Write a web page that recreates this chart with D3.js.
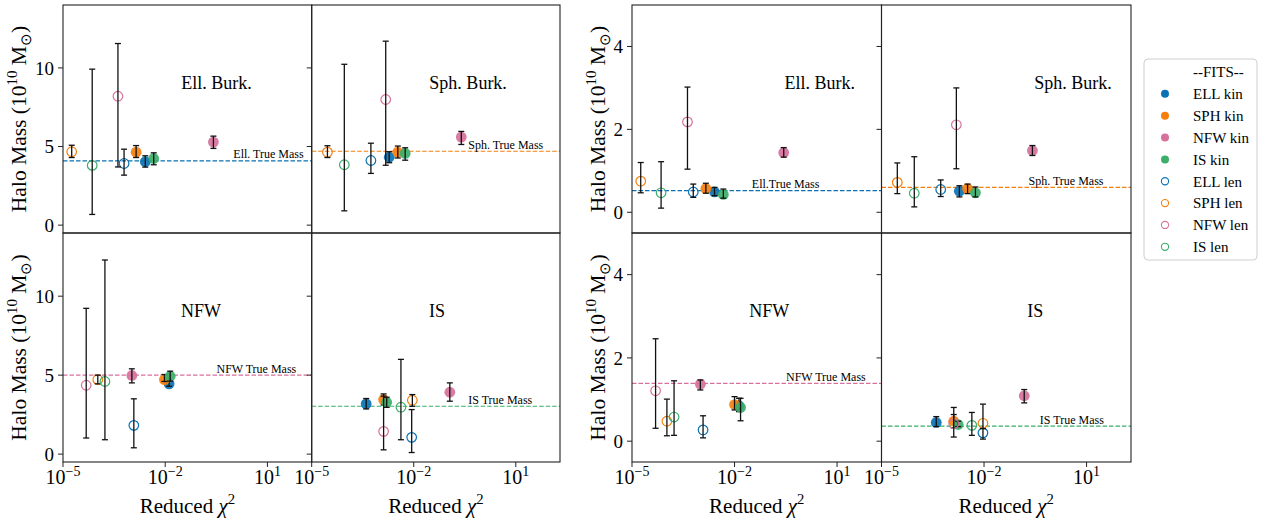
<!DOCTYPE html>
<html><head><meta charset="utf-8">
<script src="https://cdn.jsdelivr.net/npm/d3@7"></script>
<style>
body{margin:0;background:#fff}
svg{display:block}
text{font-family:"Liberation Serif","Times New Roman",serif;fill:#000}
</style>
</head><body>
<svg id="chart" width="1268" height="521"></svg>
<script>
// ---------------- DATA ----------------
const seriesNames = ["ELL kin","SPH kin","NFW kin","IS kin","ELL len","SPH len","NFW len","IS len"];
const seriesModel = [0,1,2,3,0,1,2,3];
const seriesFilled = [true,true,true,true,false,false,false,false];
const panelTitles = ["Ell. Burk.","Sph. Burk.","NFW","IS"];
const trueMassLabelsA = ["Ell. True Mass","Sph. True Mass","NFW True Mass","IS True Mass"];
const trueMassLabelsB = ["Ell.True Mass","Sph. True Mass","NFW True Mass","IS True Mass"];
const xTicks = [1e-5, 1e-2, 1e1];
const yTicksA = [0, 5, 10];
const yTicksB = [0, 2, 4];

// Group A (left block) : per panel, values in series order
const chi2A = [
  [2.6e-3, 1.4e-3, 0.26, 4.6e-3, 6.2e-4, 1.8e-5, 4.1e-4, 7.2e-5],
  [1.9e-3, 3.4e-3, 0.25, 5.6e-3, 5.5e-4, 2.9e-5, 1.5e-3, 9.1e-5],
  [1.3e-2, 9.5e-3, 1.05e-3, 1.4e-2, 1.2e-3, 1.05e-4, 4.8e-5, 1.7e-4],
  [4.0e-4, 1.3e-3, 0.115, 1.6e-3, 8.7e-3, 9.1e-3, 1.3e-3, 4.2e-3]
];
const massA = [
  [4.03, 4.64, 5.28, 4.24, 3.92, 4.67, 8.2, 3.8],
  [4.32, 4.64, 5.6, 4.56, 4.11, 4.64, 7.99, 3.84],
  [4.45, 4.72, 4.98, 4.93, 1.82, 4.72, 4.36, 4.6],
  [3.18, 3.45, 3.92, 3.28, 1.06, 3.41, 1.44, 2.97]
];
const lowA = [
  [3.69, 4.3, 4.88, 3.84, 3.18, 4.3, 3.7, 0.68],
  [3.97, 4.27, 5.13, 4.13, 3.29, 4.3, 3.81, 0.91],
  [4.3, 4.6, 4.51, 4.62, 0.4, 4.45, 1.02, 0.91],
  [2.86, 3.11, 3.35, 2.96, 0.1, 3.03, 0.27, 0.91]
];
const highA = [
  [4.41, 5.06, 5.66, 4.6, 4.83, 5.08, 11.55, 9.92],
  [4.67, 5.03, 5.96, 4.92, 5.21, 5.05, 11.7, 10.23],
  [4.76, 5.04, 5.4, 5.25, 3.5, 5.0, 9.23, 12.29],
  [3.52, 3.81, 4.51, 3.6, 2.82, 3.77, 3.67, 6.0]
];
const trueMassA = [4.09, 4.7, 5.0, 3.03];
const trueLabelXA = [1.0, 0.4, 0.32, 0.4];

// Group B (right block)
const chi2B = [
  [2.6e-3, 1.45e-3, 0.275, 4.7e-3, 6.2e-4, 1.8e-5, 4.2e-4, 7.1e-5],
  [1.9e-3, 3.3e-3, 0.26, 5.6e-3, 5.4e-4, 2.9e-5, 1.55e-3, 9.1e-5],
  [1.35e-2, 1.0e-2, 1.0e-3, 1.5e-2, 1.2e-3, 1.05e-4, 4.9e-5, 1.7e-4],
  [4.0e-4, 1.3e-3, 0.15, 1.75e-3, 9.3e-3, 9.3e-3, 1.3e-3, 4.4e-3]
];
const massB = [
  [0.49, 0.57, 1.44, 0.43, 0.49, 0.75, 2.18, 0.47],
  [0.51, 0.57, 1.49, 0.47, 0.55, 0.72, 2.11, 0.46],
  [0.85, 0.88, 1.37, 0.81, 0.27, 0.48, 1.21, 0.58],
  [0.45, 0.48, 1.09, 0.40, 0.2, 0.43, 0.42, 0.38]
];
const lowB = [
  [0.4, 0.46, 1.33, 0.34, 0.36, 0.47, 1.04, 0.1],
  [0.37, 0.45, 1.37, 0.37, 0.38, 0.45, 1.05, 0.13],
  [0.71, 0.75, 1.23, 0.49, 0.08, 0.13, 0.31, 0.14],
  [0.35, 0.32, 0.92, 0.35, 0.05, 0.3, 0.1, 0.14]
];
const highB = [
  [0.6, 0.7, 1.56, 0.56, 0.68, 1.2, 3.02, 1.22],
  [0.64, 0.68, 1.61, 0.61, 0.78, 1.19, 3.0, 1.34],
  [1.03, 1.07, 1.47, 1.03, 0.61, 1.01, 2.46, 1.45],
  [0.59, 0.64, 1.24, 0.48, 0.31, 0.89, 0.81, 0.69]
];
const trueMassB = [0.52, 0.6, 1.39, 0.36];
const trueLabelXB = [0.032, 0.2, 0.32, 0.43];

// ---------------- STYLE / LAYOUT ----------------
const modelColors = ["#0a72b2", "#f57f0c", "#d6719c", "#3aae6a"];
const svg = d3.select("#chart");

const groups = [
  {x: [63, 311.7, 560], yDomain: [-0.5, 14], yTicks: yTicksA, chi2: chi2A, mass: massA, low: lowA, high: highA,
   tm: trueMassA, tmX: trueLabelXA, tmLab: trueMassLabelsA, ylabX: 26,
   titleFrac: [0.617, 0.63, 0.555, 0.505]},
  {x: [632, 881.5, 1131], yDomain: [-0.5, 5], yTicks: yTicksB, chi2: chi2B, mass: massB, low: lowB, high: highB,
   tm: trueMassB, tmX: trueLabelXB, tmLab: trueMassLabelsB, ylabX: 605,
   titleFrac: [0.753, 0.768, 0.55, 0.616]}
];
const rowsY = [5, 233, 462];

function richText(sel, parts, base) {
  let cur = 0;
  parts.forEach(p => {
    const ts = sel.append("tspan").text(p.t);
    let target = 0, fs = base;
    if (p.sup) { target = -0.42 * base; fs = 0.7 * base; }
    if (p.sub) { target = 0.22 * base; fs = 0.7 * base; }
    if (p.it) ts.attr("font-style", "italic");
    ts.attr("font-size", fs).attr("dy", target - cur);
    cur = target;
  });
}

groups.forEach(g => {
  for (let r = 0; r < 2; r++) {
    for (let c = 0; c < 2; c++) {
      const p = r * 2 + c;
      const x = d3.scaleLog().domain([1e-5, Math.pow(10, 2.3)]).range([g.x[c], g.x[c + 1]]);
      const y = d3.scaleLinear().domain(g.yDomain).range([rowsY[r + 1], rowsY[r]]);
      const gp = svg.append("g");

      // true mass line
      gp.append("line")
        .attr("x1", g.x[c]).attr("x2", g.x[c + 1])
        .attr("y1", y(g.tm[p])).attr("y2", y(g.tm[p]))
        .attr("stroke", modelColors[p]).attr("stroke-width", 1.2)
        .attr("stroke-dasharray", "4.5,2");
      gp.append("text")
        .attr("x", x(g.tmX[p])).attr("y", y(g.tm[p]) - 2.5)
        .attr("font-size", 12).attr("fill", "#222")
        .text(g.tmLab[p]);

      // title
      gp.append("text")
        .attr("x", g.x[c] + g.titleFrac[p] * (g.x[c + 1] - g.x[c]))
        .attr("y", rowsY[r] + 84)
        .attr("text-anchor", "middle").attr("font-size", 18)
        .text(panelTitles[p]);

      // points
      seriesNames.forEach((s, i) => {
        const cx = x(g.chi2[p][i]), cy = y(g.mass[p][i]);
        const col = modelColors[seriesModel[i]];
        if (seriesFilled[i]) {
          gp.append("circle").attr("cx", cx).attr("cy", cy).attr("r", 5.4)
            .attr("fill", col).attr("fill-opacity", 0.92);
        } else {
          gp.append("circle").attr("cx", cx).attr("cy", cy).attr("r", 4.8)
            .attr("fill", "none").attr("stroke", col).attr("stroke-width", 1.2);
        }
        const y1 = y(g.low[p][i]), y2 = y(g.high[p][i]);
        const eb = gp.append("g").attr("stroke", "#111").attr("stroke-width", 1.3);
        eb.append("line").attr("x1", cx).attr("x2", cx).attr("y1", y1).attr("y2", y2);
        eb.append("line").attr("x1", cx - 3).attr("x2", cx + 3).attr("y1", y1).attr("y2", y1);
        eb.append("line").attr("x1", cx - 3).attr("x2", cx + 3).attr("y1", y2).attr("y2", y2);
      });

      // frame
      gp.append("rect")
        .attr("x", g.x[c]).attr("y", rowsY[r])
        .attr("width", g.x[c + 1] - g.x[c]).attr("height", rowsY[r + 1] - rowsY[r])
        .attr("fill", "none").attr("stroke", "#222").attr("stroke-width", 1.1);

      // y ticks
      g.yTicks.forEach(t => {
        gp.append("line").attr("x1", g.x[c] - 5).attr("x2", g.x[c])
          .attr("y1", y(t)).attr("y2", y(t)).attr("stroke", "#222").attr("stroke-width", 1);
        if (c === 0) {
          gp.append("text").attr("x", g.x[c] - 9).attr("y", y(t)).attr("dy", "0.35em")
            .attr("text-anchor", "end").attr("font-size", 19).text(t);
        }
      });
      if (c === 0) {
        const yl = gp.append("text")
          .attr("transform", `translate(${g.ylabX},${(rowsY[r] + rowsY[r + 1]) / 2}) rotate(-90)`)
          .attr("text-anchor", "middle");
        richText(yl, [{t: "Halo Mass (10"}, {t: "10", sup: true}, {t: " M"}, {t: "\u2299", sub: true}, {t: ")"}], 21.5);
      }

      // x ticks (bottom row)
      if (r === 1) {
        xTicks.forEach(t => {
          gp.append("line").attr("x1", x(t)).attr("x2", x(t))
            .attr("y1", rowsY[2]).attr("y2", rowsY[2] + 5).attr("stroke", "#222").attr("stroke-width", 1);
          const tl = gp.append("text").attr("x", x(t)).attr("y", rowsY[2] + 22)
            .attr("text-anchor", "middle");
          const e = Math.round(Math.log10(t));
          richText(tl, [{t: "10"}, {t: (e < 0 ? "\u2212" : "") + Math.abs(e), sup: true}], 20);
        });
        const xl = gp.append("text")
          .attr("x", (g.x[c] + g.x[c + 1]) / 2).attr("y", 513)
          .attr("text-anchor", "middle");
        richText(xl, [{t: "Reduced "}, {t: "\u03C7", it: true}, {t: "2", sup: true}], 21);
      }
    }
  }
});

// ---------------- LEGEND ----------------
const lg = svg.append("g");
lg.append("rect").attr("x", 1144).attr("y", 59).attr("width", 113).attr("height", 201)
  .attr("rx", 4).attr("fill", "#fff").attr("stroke", "#cfcfcf").attr("stroke-width", 1);
const legY = i => 72 + i * 21.85;
lg.append("text").attr("x", 1193).attr("y", legY(0)).attr("dy", "0.35em").attr("font-size", 15).text("--FITS--");
seriesNames.forEach((s, i) => {
  const yy = legY(i + 1);
  const col = modelColors[seriesModel[i]];
  if (seriesFilled[i]) {
    lg.append("circle").attr("cx", 1165).attr("cy", yy).attr("r", 4).attr("fill", col);
  } else {
    lg.append("circle").attr("cx", 1165).attr("cy", yy).attr("r", 3.6)
      .attr("fill", "none").attr("stroke", col).attr("stroke-width", 1.1);
  }
  lg.append("text").attr("x", 1193).attr("y", yy).attr("dy", "0.35em").attr("font-size", 15).text(s);
});
</script>
</body></html>
